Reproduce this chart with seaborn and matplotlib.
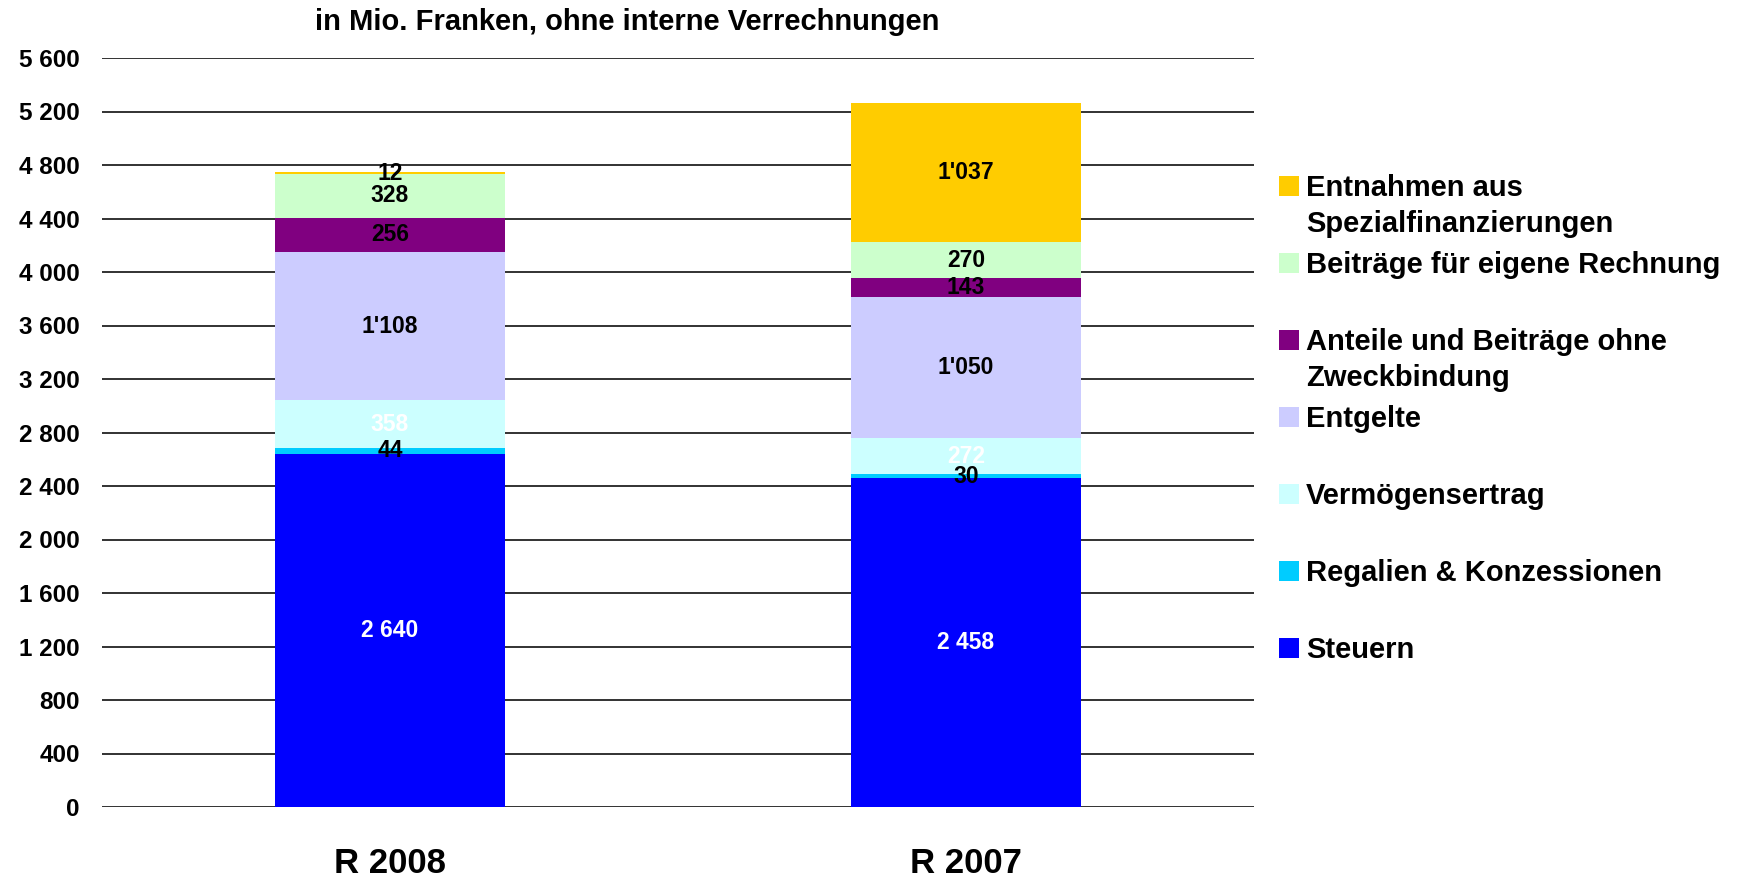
import numpy as np
import matplotlib.pyplot as plt
import matplotlib.patches as mpatches
import pandas as pd
import seaborn as sns

years = ["R 2008", "R 2007"]
series = ["Steuern", "Regalien & Konzessionen", "Vermögensertrag", "Entgelte",
          "Anteile und Beiträge ohne\nZweckbindung", "Beiträge für eigene Rechnung",
          "Entnahmen aus\nSpezialfinanzierungen"]
steuern = [2640, 2458]
regalien = [44, 30]
vermoegen = [358, 272]
entgelte = [1108, 1050]
anteile = [256, 143]
beitraege = [328, 270]
entnahmen = [12, 1037]
values = [steuern, regalien, vermoegen, entgelte, anteile, beitraege, entnahmen]

colors = ["#0000FF", "#00CCFF", "#CCFFFF", "#CCCCFF", "#800080", "#CCFFCC", "#FFCC00"]
text_colors = ["white", "black", "white", "black", "black", "black", "black"]
thousand_sep = [" ", "'", "'", "'", "'", "'", "'"]

rows = []
for s, vals in zip(series, values):
    for y, v in zip(years, vals):
        rows.append({"year": y, "series": s, "value": v})
df = pd.DataFrame(rows)
df["top"] = df.groupby("year")["value"].cumsum()
df["bottom"] = df["top"] - df["value"]

sns.set_theme(style="white")
plt.rcParams["font.family"] = "Liberation Sans"
plt.rcParams["font.weight"] = "bold"
plt.rcParams["text.color"] = "black"
plt.rcParams["xtick.color"] = "black"
plt.rcParams["ytick.color"] = "black"

W, H = 1740, 877
fig = plt.figure(figsize=(W / 100, H / 100), dpi=100)
ax = fig.add_axes([102 / W, 1 - 807 / H, (1254 - 102) / W, (807 - 58) / H])

# stacked bars: draw cumulative totals from the top segment down
for s, c in zip(reversed(series), reversed(colors)):
    sub = df[df["series"] == s]
    sns.barplot(data=sub, x="year", y="top", order=years, color=c, saturation=1,
                width=0.4, linewidth=0, errorbar=None, ax=ax)

for s, tc, sep in zip(series, text_colors, thousand_sep):
    sub = df[df["series"] == s]
    for _, r in sub.iterrows():
        i = years.index(r["year"])
        lab = f"{r['value']:,}".replace(",", sep)
        ax.text(i, r["bottom"] + r["value"] / 2, lab, ha="center", va="center",
                fontsize=16.5, fontweight="bold", color=tc)

ax.set_xlim(-0.5, 1.5)
ax.set_ylim(0, 5600)
ticks = np.arange(0, 5601, 400)
ax.set_yticks(ticks)
ax.set_yticklabels([f"{t:,}".replace(",", " ") for t in ticks], fontsize=17.5, fontweight="bold")
ax.tick_params(axis="y", length=0, pad=16)
ax.tick_params(axis="x", length=0, pad=29, labelsize=25)
for t in ax.get_xticklabels():
    t.set_fontweight("bold")
ax.set_xlabel("")
ax.set_ylabel("")
ax.yaxis.grid(True, color="#222222", linewidth=1.3)
ax.set_axisbelow(True)
for sp in ax.spines.values():
    sp.set_visible(False)

fig.text(627 / W, 1 - 22 / H, "in Mio. Franken, ohne interne Verrechnungen",
         ha="center", va="center", fontsize=21, fontweight="bold")

# legend, top entry first; each line of a label placed on its own
leg_y = [186, 263, 340, 417, 494, 571, 648]
line_h = 36
for s, c, yc in zip(reversed(series), reversed(colors), leg_y):
    fig.add_artist(mpatches.Rectangle((1279 / W, 1 - (yc + 10) / H), 20 / W, 20 / H,
                                      transform=fig.transFigure, color=c, lw=0))
    for k, line in enumerate(s.split("\n")):
        fig.text(1306 / W, 1 - (yc + 10 + k * line_h) / H, line, ha="left", va="baseline",
                 fontsize=21, fontweight="bold")

fig.savefig("out.png", dpi=100)
